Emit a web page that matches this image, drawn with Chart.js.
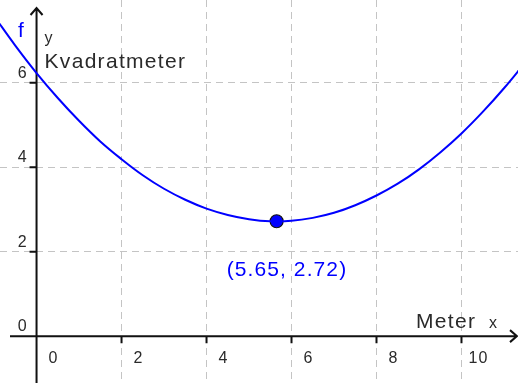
<!DOCTYPE html>
<html>
<head>
<meta charset="utf-8">
<script src="https://cdn.jsdelivr.net/npm/chart.js@4/dist/chart.umd.min.js"></script>
<style>
  html, body { margin: 0; padding: 0; background: #fff; }
  #wrap { width: 518px; height: 383px; }
</style>
</head>
<body>
<div id="wrap"><canvas id="areaChart"></canvas></div>
<script>
// Area (Kvadratmeter) as a function of length (Meter)
const xValues = [-1, -0.5, 0, 0.5, 1, 1.5, 2, 2.5, 3, 3.5, 4, 4.5, 5, 5.5, 6, 6.5, 7, 7.5, 8, 8.5, 9, 9.5, 10, 10.5, 11, 11.5];
const fValues = [7.58, 6.88, 6.23, 5.64, 5.10, 4.61, 4.19, 3.81, 3.49, 3.23, 3.02, 2.87, 2.77, 2.72, 2.73, 2.80, 2.92, 3.10, 3.33, 3.61, 3.95, 4.35, 4.80, 5.31, 5.87, 6.48];

// Minimum point
const minX = [5.65];
const minY = [2.72];

// Axis ticks
const xTicks = [0, 2, 4, 6, 8, 10];
const yTicks = [0, 2, 4, 6];

const FONT = "'Liberation Sans', Arial, sans-serif";
const BLUE = "#0000ff";
const INK = "#2a2a2a";

const curve = xValues.map((x, i) => ({ x: x, y: fValues[i] }));
const minPoint = minX.map((x, i) => ({ x: x, y: minY[i] }));

const gridTicks = (values) => (scale) => {
  scale.ticks = values.filter((v) => v !== 0).map((v) => ({ value: v }));
};

// Axes with arrows, tick marks and labels
const axesPlugin = {
  id: "axes",
  beforeDatasetsDraw(chart) {
    const { ctx, chartArea: a, scales: { x, y } } = chart;
    const x0 = x.getPixelForValue(0);
    const y0 = y.getPixelForValue(0);
    ctx.save();
    ctx.strokeStyle = "#111";
    ctx.lineWidth = 2;
    ctx.beginPath();
    // x axis
    ctx.moveTo(a.left + 10, y0);
    ctx.lineTo(a.right - 1, y0);
    ctx.moveTo(a.right - 8, y0 - 6);
    ctx.lineTo(a.right - 1, y0);
    ctx.lineTo(a.right - 8, y0 + 6);
    // y axis
    ctx.moveTo(x0, a.bottom);
    ctx.lineTo(x0, a.top + 8);
    ctx.moveTo(x0 - 6, a.top + 15);
    ctx.lineTo(x0, a.top + 8);
    ctx.lineTo(x0 + 6, a.top + 15);
    // tick marks
    xTicks.filter((v) => v !== 0).forEach((v) => {
      const px = x.getPixelForValue(v);
      ctx.moveTo(px, y0);
      ctx.lineTo(px, y0 + 7);
    });
    yTicks.filter((v) => v !== 0).forEach((v) => {
      const py = y.getPixelForValue(v);
      ctx.moveTo(x0 - 7, py);
      ctx.lineTo(x0, py);
    });
    ctx.stroke();

    // tick labels
    ctx.fillStyle = INK;
    ctx.font = "16px " + FONT;
    ctx.letterSpacing = "1px";
    ctx.textBaseline = "alphabetic";
    ctx.textAlign = "center";
    xTicks.forEach((v) => {
      ctx.fillText(String(v), x.getPixelForValue(v) + 17, y0 + 27);
    });
    ctx.textAlign = "right";
    yTicks.forEach((v) => {
      ctx.fillText(String(v), x0 - 9, y.getPixelForValue(v) - 5);
    });
    ctx.restore();
  },
  afterDraw(chart) {
    const { ctx, scales: { x, y } } = chart;
    const x0 = x.getPixelForValue(0);
    const y0 = y.getPixelForValue(0);
    ctx.save();
    ctx.textBaseline = "alphabetic";
    ctx.textAlign = "left";

    // axis names
    ctx.fillStyle = INK;
    ctx.font = "16px " + FONT;
    ctx.letterSpacing = "1px";
    ctx.fillText("y", x0 + 8, 43);
    ctx.fillText("x", 489, y0 - 8);
    ctx.font = "21px " + FONT;
    ctx.letterSpacing = "1.3px";
    ctx.fillText("Kvadratmeter", x0 + 8, 68);
    ctx.fillText("Meter", 416, y0 - 8);

    // function name and minimum label
    ctx.fillStyle = BLUE;
    ctx.fillText("f", 18, 37);
    const p = minPoint[0];
    const label = "(" + p.x.toFixed(2) + ", " + p.y.toFixed(2) + ")";
    ctx.letterSpacing = "1.1px";
    ctx.fillText(label, x.getPixelForValue(p.x) - 50, y.getPixelForValue(p.y) + 55);
    ctx.restore();
  },
};

new Chart(document.getElementById("areaChart"), {
  type: "scatter",
  data: {
    datasets: [
      {
        label: "f",
        data: curve,
        showLine: true,
        borderColor: BLUE,
        borderWidth: 2,
        tension: 0.4,
        pointRadius: 0,
        fill: false,
      },
      {
        label: "min",
        data: minPoint,
        pointRadius: 6.5,
        pointBackgroundColor: BLUE,
        pointBorderColor: "#111",
        pointBorderWidth: 1.2,
      },
    ],
  },
  plugins: [axesPlugin],
  options: {
    responsive: true,
    maintainAspectRatio: false,
    animation: false,
    layout: { padding: 0, autoPadding: false },
    plugins: {
      legend: { display: false },
      tooltip: { enabled: false },
    },
    scales: {
      x: {
        type: "linear",
        min: -0.86,
        max: 11.33,
        afterBuildTicks: gridTicks(xTicks),
        ticks: { display: false },
        grid: { color: "#c4c4c4", lineWidth: 1, drawTicks: false },
        border: { display: false, dash: [7, 5] },
      },
      y: {
        type: "linear",
        min: -1.11,
        max: 7.96,
        afterBuildTicks: gridTicks(yTicks),
        ticks: { display: false },
        grid: { color: "#c4c4c4", lineWidth: 1, drawTicks: false },
        border: { display: false, dash: [7, 5] },
      },
    },
  },
});
</script>
</body>
</html>
